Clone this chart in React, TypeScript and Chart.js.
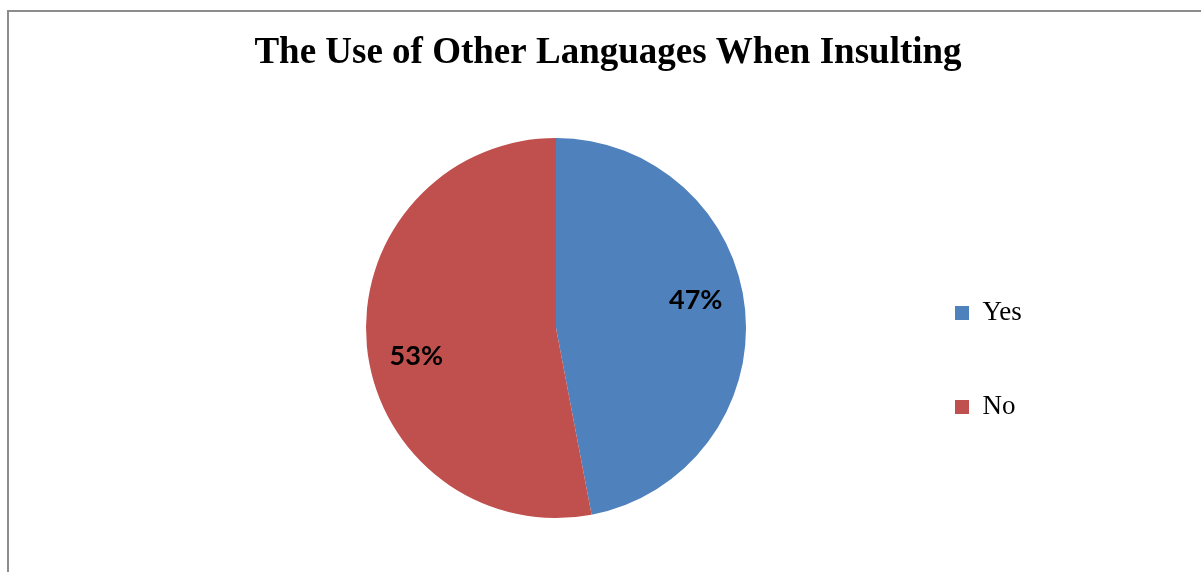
import React, { useEffect, useRef } from "react";
import { Chart, registerables } from "chart.js";

Chart.register(...registerables);

const chartTitle = "The Use of Other Languages When Insulting";
const categories = ["Yes", "No"];
const percentages = [47, 53];
const sliceColors = ["#4F81BD", "#C0504D"];

const SERIF = '"Liberation Serif", "Times New Roman", serif';

const pieLabelsPlugin = {
  id: "pieLabels",
  afterDatasetsDraw(chart: any) {
    const { ctx } = chart;
    const meta = chart.getDatasetMeta(0);
    const data = chart.data.datasets[0].data as number[];
    const total = data.reduce((a, b) => a + b, 0);
    ctx.save();
    ctx.font = 'bold 27px Lato, "Open Sans", sans-serif';
    ctx.fillStyle = "#000";
    ctx.textAlign = "center";
    ctx.textBaseline = "middle";
    meta.data.forEach((arc: any, i: number) => {
      const p = arc.getProps(["x", "y", "startAngle", "endAngle", "outerRadius"], true);
      const mid = (p.startAngle + p.endAngle) / 2 - (6 * Math.PI) / 180;
      const r = p.outerRadius * 0.75;
      const x = p.x + Math.cos(mid) * r;
      const y = p.y + Math.sin(mid) * r;
      ctx.fillText(Math.round((data[i] / total) * 100) + "%", x, y);
    });
    ctx.restore();
  },
};

// The legend reserves a narrow column in the layout; widen its drawing box
// afterwards so the labels are not clipped.
const legendWidenPlugin = {
  id: "legendWiden",
  afterLayout(chart: any) {
    const l = chart.legend;
    if (l) {
      l.right = chart.width;
      l.width = l.right - l.left;
    }
  },
};

export default function App() {
  const canvasRef = useRef<HTMLCanvasElement | null>(null);

  useEffect(() => {
    if (!canvasRef.current) return;
    const chart = new Chart(canvasRef.current, {
      type: "pie",
      data: {
        labels: categories,
        datasets: [
          {
            data: percentages,
            backgroundColor: sliceColors,
            borderWidth: 0,
            radius: 190,
            clip: false,
          } as any,
        ],
      },
      options: {
        responsive: false,
        animation: false,
        layout: { padding: { left: 224, right: 209, top: 0, bottom: 84.5 } },
        plugins: {
          title: {
            display: true,
            text: chartTitle,
            color: "#000",
            font: { family: SERIF, size: 37, weight: "bold", lineHeight: 1.2 },
            padding: { top: 30.8, bottom: 93.3 },
          },
          legend: {
            display: true,
            position: "right",
            align: "end",
            maxWidth: 104,
            labels: {
              color: "#000",
              font: { family: SERIF, size: 27 },
              boxWidth: 14,
              boxHeight: 14,
              padding: 67,
            },
          },
          tooltip: { enabled: false },
        },
      },
      plugins: [pieLabelsPlugin, legendWidenPlugin],
    });
    return () => chart.destroy();
  }, []);

  return (
    <div
      style={{
        position: "fixed",
        left: 0,
        top: 0,
        width: 1201,
        height: 572,
        overflow: "hidden",
        background: "#fff",
      }}
    >
      <canvas
        ref={canvasRef}
        width={1201}
        height={572}
        style={{ position: "absolute", left: 0, top: 0, width: 1201, height: 572 }}
      />
      <div
        style={{
          position: "absolute",
          left: 7,
          top: 10,
          width: 1192,
          height: 562,
          borderLeft: "2px solid #8c8c8c",
          borderTop: "2px solid #8c8c8c",
          pointerEvents: "none",
        }}
      />
    </div>
  );
}
